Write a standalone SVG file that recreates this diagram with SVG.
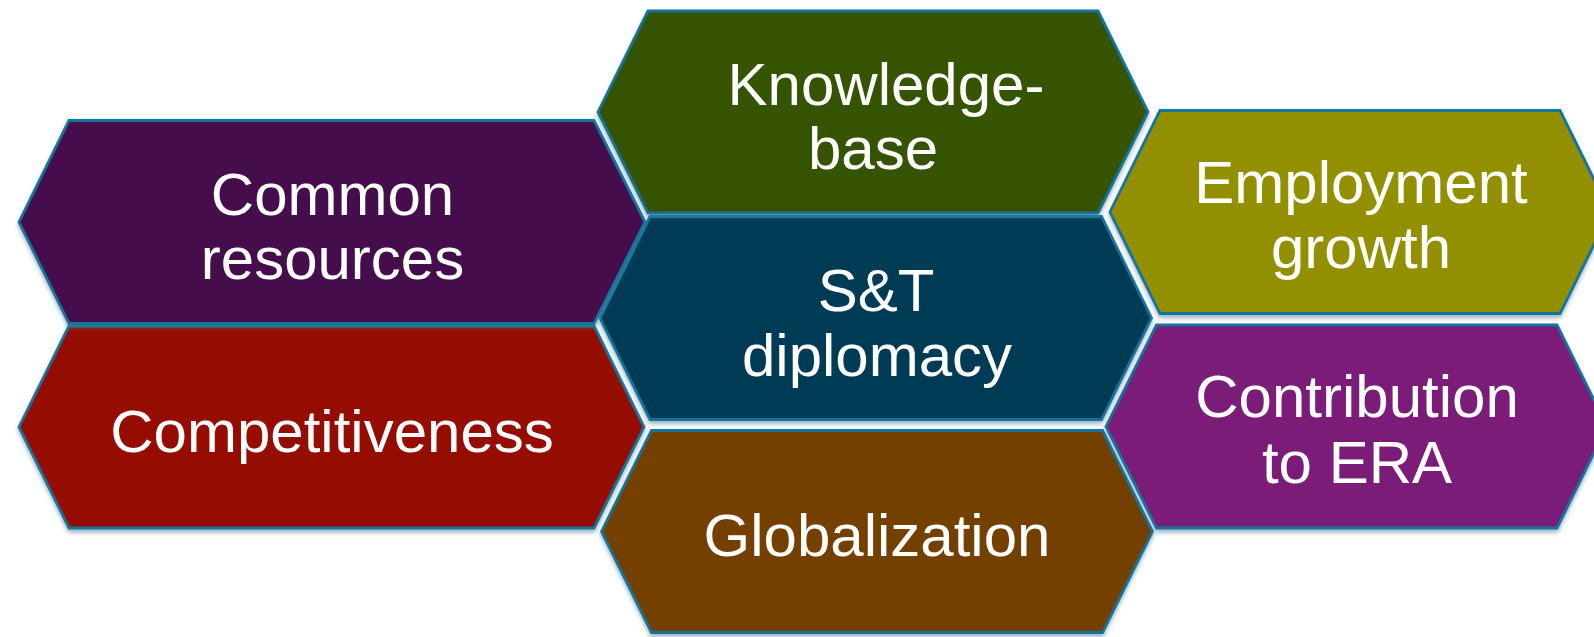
<svg xmlns="http://www.w3.org/2000/svg" width="1594" height="637" viewBox="0 0 1594 637">
  <defs>
    <filter id="sh" x="-5%" y="-10%" width="110%" height="125%">
      <feDropShadow dx="0" dy="3" stdDeviation="2.2" flood-color="#4a7890" flood-opacity="0.55"/>
    </filter>
  </defs>
  <style>
    .hex { stroke: #17739c; stroke-width: 2.8; stroke-linejoin: miter; filter: url(#sh); }
    .lbl { fill: #ffffff; font-family: "Liberation Sans", Arial, sans-serif; font-size: 60px; text-anchor: middle; }
  </style>
  <rect width="1594" height="637" fill="#ffffff"/>
  <g id="connectors"/>
  <g id="globalization">
    <polygon class="hex" fill="#733f00" points="601.5,531.5 651.5,430.5 1102.5,430.5 1152.5,531.5 1102.5,632.5 651.5,632.5"/>
    <text class="lbl" x="877" y="556">Globalization</text>
  </g>
  <g id="competitiveness">
    <polygon class="hex" fill="#941100" points="19,427 69,326 594,326 644,427 594,528 69,528"/>
    <text class="lbl" x="332" y="452">Competitiveness</text>
  </g>
  <g id="contribution-era">
    <polygon class="hex" fill="#7a1a78" points="1106,426.5 1156.5,325 1557,325 1607,426.5 1557,528 1156.5,528"/>
    <text class="lbl" x="1357" y="417">Contribution</text>
    <text class="lbl" x="1357" y="483">to ERA</text>
  </g>
  <g id="st-diplomacy">
    <polygon class="hex" fill="#003a56" points="600,318 650,216.5 1101.5,216.5 1151.5,318 1101.5,419.5 650,419.5"/>
    <text class="lbl" x="876" y="311">S&amp;T</text>
    <text class="lbl" x="877" y="376">diplomacy</text>
  </g>
  <g id="common-resources">
    <polygon class="hex" fill="#450d4b" points="19,222 69,120.5 594,120.5 645,222 594,323.5 69,323.5"/>
    <text class="lbl" x="332.5" y="215">Common</text>
    <text class="lbl" x="332.5" y="279">resources</text>
  </g>
  <g id="employment-growth">
    <polygon class="hex" fill="#929000" points="1110,212 1160,110.5 1560,110.5 1610,212 1560,313.5 1160,313.5"/>
    <text class="lbl" x="1361" y="203">Employment</text>
    <text class="lbl" x="1361" y="268">growth</text>
  </g>
  <g id="knowledge-base">
    <polygon class="hex" fill="#355300" points="598,112 648,11 1098,11 1148,112 1098,213 648,213"/>
    <text class="lbl" x="886" y="105">Knowledge-</text>
    <text class="lbl" x="873" y="169">base</text>
  </g>
</svg>
